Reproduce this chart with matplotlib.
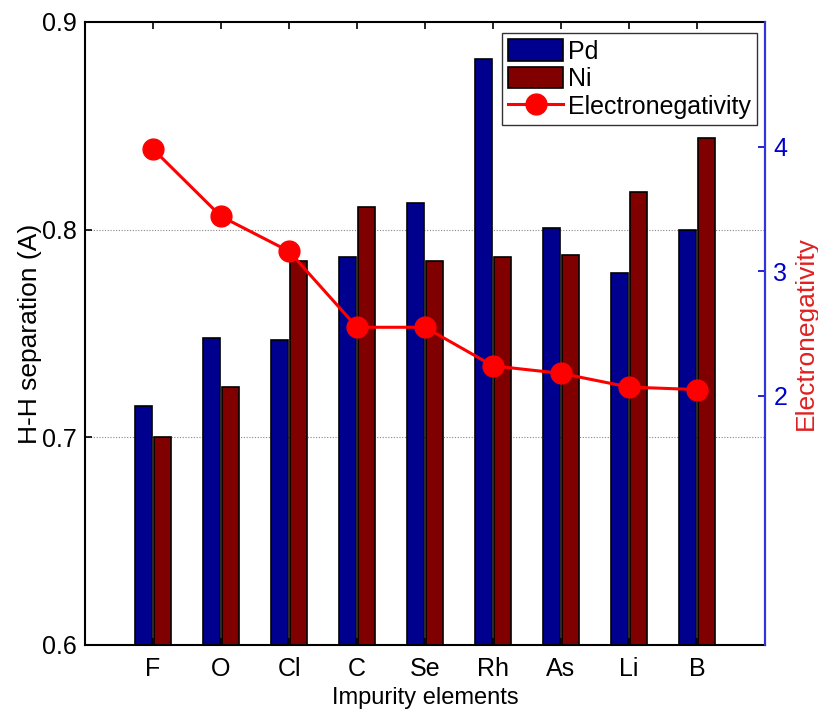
import matplotlib
matplotlib.use("Agg")
import matplotlib.pyplot as plt
import numpy as np

plt.rcParams['font.family'] = ['Liberation Sans', 'DejaVu Sans']

elements = ["F", "O", "Cl", "C", "Se", "Rh", "As", "Li", "B"]
pd_vals = [0.715, 0.748, 0.747, 0.787, 0.813, 0.882, 0.801, 0.779, 0.800]
ni_vals = [0.700, 0.724, 0.785, 0.811, 0.785, 0.787, 0.788, 0.818, 0.844]
electroneg = [3.98, 3.44, 3.16, 2.55, 2.55, 2.24, 2.18, 2.07, 2.05]
left_ticks = [0.6, 0.7, 0.8, 0.9]
right_ticks = [2, 3, 4]

fig = plt.figure(figsize=(8.18, 7.15), dpi=100)
ax = fig.add_axes([85/818, 1-645/715, (765-85)/818, (645-22)/715])

x = np.arange(1, len(elements) + 1)
w = 0.245
ax.bar(x - 0.135, pd_vals, width=w, color='#00008F', edgecolor='black', linewidth=1.2, label='Pd', zorder=2)
ax.bar(x + 0.135, ni_vals, width=w, color='#800000', edgecolor='black', linewidth=1.2, label='Ni', zorder=2)

ax.set_xlim(0, 10)
ax.set_ylim(0.6, 0.9)
ax.set_xticks(x)
ax.set_xticklabels(elements)
ax.set_yticks(left_ticks)
ax.set_yticklabels([f"{t:.1f}" for t in left_ticks])
for t in [0.7, 0.8]:
    ax.axhline(t, color='#888888', linestyle=(0, (1, 1.5)), linewidth=0.8, zorder=1)
ax.tick_params(axis='both', direction='in', labelsize=18, length=5, width=1.2,
               top=True, right=True)
ax.tick_params(axis='x', pad=9)
ax.tick_params(axis='y', pad=6)
ax.set_xlabel('Impurity elements', fontsize=17, labelpad=4)
ax.set_ylabel('H-H separation (A)', fontsize=19, labelpad=0)
for s in ax.spines.values():
    s.set_linewidth(1.5)

ax2 = ax.twinx()
ax2.set_ylim(0, 5)
ax2.set_yticks(right_ticks)
ax2.set_yticklabels([str(t) for t in right_ticks])
ax2.plot(x, electroneg, color='#FF0000', linewidth=2.2, marker='o', markersize=15,
         label='Electronegativity', zorder=3)
ax2.tick_params(axis='y', direction='in', colors='#0000CC', labelsize=18, length=5, width=1.2, pad=6)
ax2.spines['right'].set_color('#3333DD')
ax2.spines['right'].set_linewidth(1.5)
ax2.spines['left'].set_visible(False)
ax2.spines['top'].set_visible(False)
ax2.spines['bottom'].set_visible(False)
ax2.set_ylabel('Electronegativity', color='#E02020', fontsize=19, labelpad=5)

h1, l1 = ax.get_legend_handles_labels()
h2, l2 = ax2.get_legend_handles_labels()
leg = ax2.legend(h1 + h2, l1 + l2, loc='upper right', bbox_to_anchor=(0.9885, 0.982),
                 fontsize=18, frameon=True, fancybox=False, edgecolor='black',
                 handlelength=2.2, handleheight=0.95, handletextpad=0.2, borderpad=0.25,
                 labelspacing=0.12, borderaxespad=0.0)
leg.get_frame().set_linewidth(1.0)

fig.savefig('out.png', dpi=100)
